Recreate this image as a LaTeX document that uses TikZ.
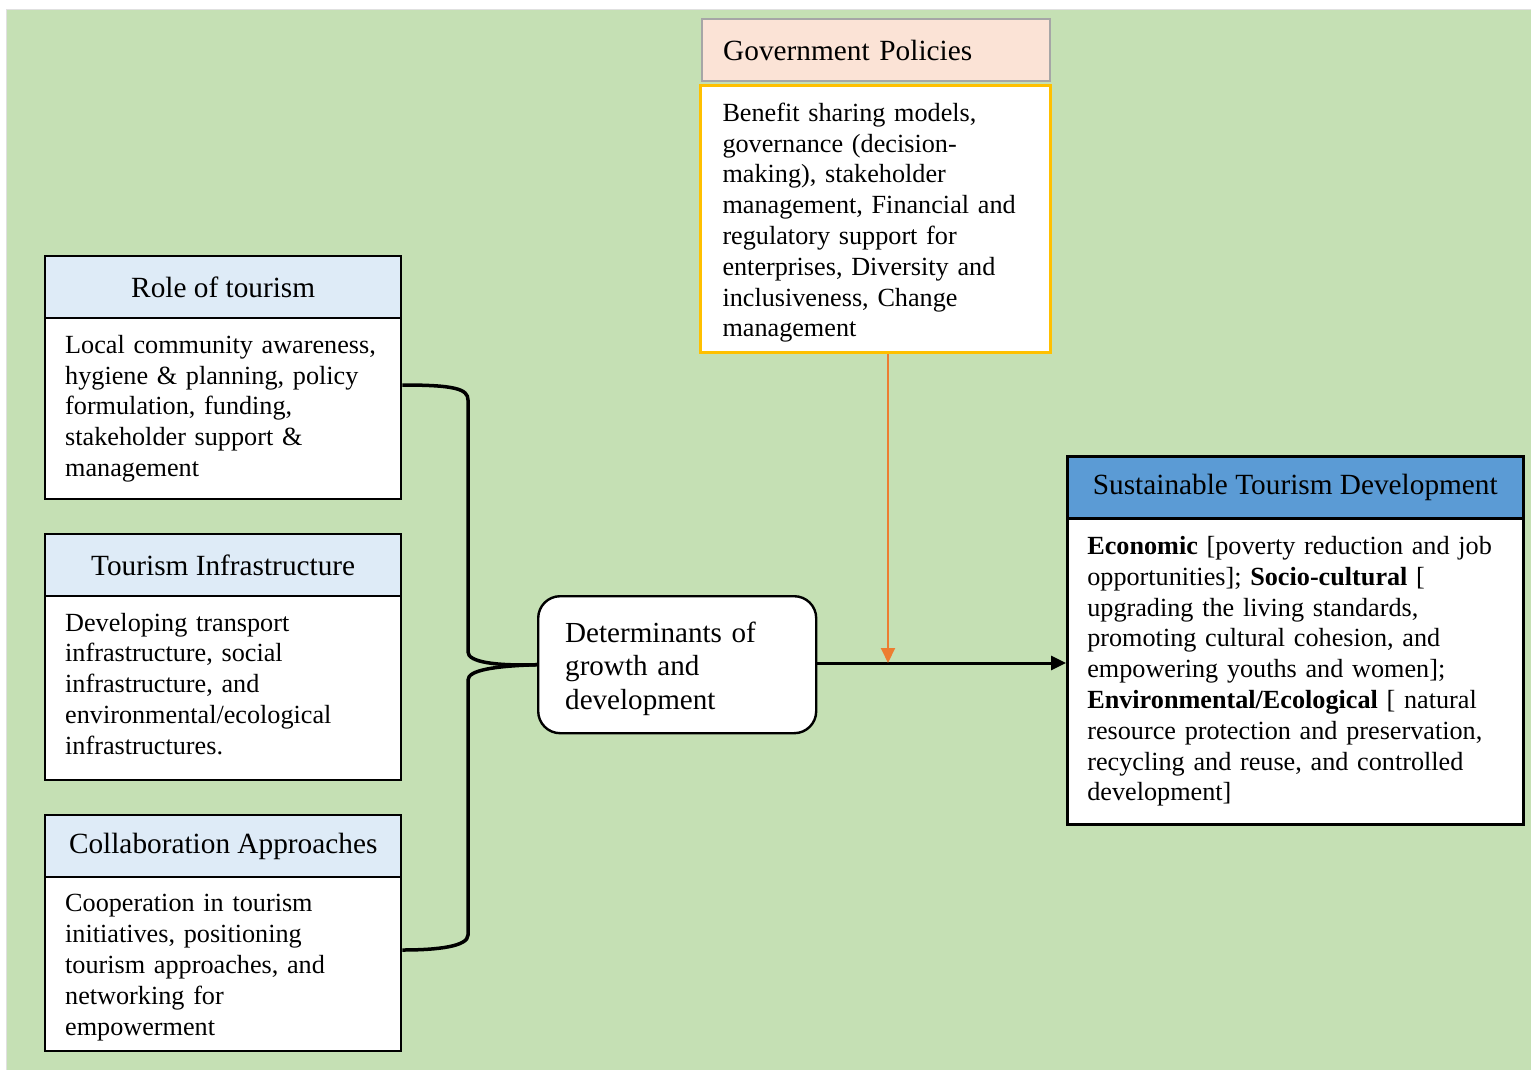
\documentclass[tikz,border=0pt]{standalone}
\usepackage{fontspec}
\setmainfont{Liberation Serif}
\usetikzlibrary{arrows.meta}
\definecolor{bggreen}{HTML}{C5E0B4}
\definecolor{hdrblue}{HTML}{DEEBF7}
\definecolor{peach}{HTML}{FBE3D6}
\definecolor{midblue}{HTML}{5B9BD5}
\definecolor{goldy}{HTML}{FFC000}
\definecolor{orng}{HTML}{ED7D31}
\definecolor{greyb}{HTML}{A6A6A6}
\tikzset{
  txt/.style={font=\fontsize{26.2}{30.8}\selectfont},
  hdrtxt/.style={font=\fontsize{29.3}{32}\selectfont},
  hdr/.style={hdrtxt, draw=black, line width=2.4pt, fill=hdrblue, anchor=north west, minimum height=62pt, inner sep=0pt},
  bodybox/.style={txt, draw=black, line width=2.4pt, fill=white, anchor=north west, align=left, inner ysep=0pt},
  brace/.style={line width=3.5pt, black},
}
\begin{document}
\begin{tikzpicture}[x=1pt,y=-1pt]
\useasboundingbox (0,0) rectangle (1531,1070);
\fill[white] (0,0) rectangle (1531,1070);
\draw[fill=bggreen, draw=black!12, line width=1.5pt] (6.5,9.5) rectangle (1535,1075);

% Left column
\node[hdr, minimum width=356pt] (roleh) at (44,255) {Role of tourism};
\node[bodybox, minimum width=356pt, minimum height=181pt, text width=316pt, inner xsep=20pt] (roleb) at (44,317)
 {Local community awareness,\\ hygiene \& planning, policy\\ formulation, funding,\\ stakeholder support \&\\ management};

\node[hdr, minimum width=356pt] (infh) at (44,533) {Tourism Infrastructure};
\node[bodybox, minimum width=356pt, minimum height=184pt, text width=316pt, inner xsep=20pt] (infb) at (44,595)
 {Developing transport\\ infrastructure, social\\ infrastructure, and\\ environmental/ecological\\ infrastructures.\rule[-9pt]{0pt}{9pt}};

\node[hdr, minimum width=356pt] (colh) at (44,814) {Collaboration Approaches};
\node[bodybox, minimum width=356pt, minimum height=174pt, text width=316pt, inner xsep=20pt] (colb) at (44,876)
 {\rule{0pt}{24pt}Cooperation in tourism\\ initiatives, positioning\\ tourism approaches, and\\ networking for\\ empowerment};

% Determinants
\node[font=\fontsize{29.1}{33.5}\selectfont, draw=black, line width=2.4pt, fill=white, rounded corners=22pt,
      anchor=north west, minimum width=278pt, minimum height=137pt, text width=224pt, inner xsep=27pt, inner ysep=0pt, align=left] (det) at (537,595)
 {\rule{0pt}{28pt}Determinants of\\ growth and\\ development};

% Government policies
\node[hdrtxt, draw=greyb, line width=2.4pt, fill=peach, anchor=north west, minimum width=348pt, minimum height=62pt,
      text width=306pt, inner xsep=21pt, inner ysep=0pt, align=left] (gph) at (701,18) {Government Policies};
\node[bodybox, draw=goldy, line width=3pt, minimum width=350pt, minimum height=267pt, text width=306pt, inner xsep=22pt] (gpb) at (699,84)
 {\rule{0pt}{26pt}Benefit sharing models,\\ governance (decision-\\ making), stakeholder\\ management, Financial and\\ regulatory support for\\ enterprises, Diversity and\\ inclusiveness, Change\\ management};

% Sustainable tourism development
\node[hdr, fill=midblue, minimum width=456pt, line width=2.6pt] (sdh) at (1066,455) {Sustainable Tourism Development};
\node[bodybox, line width=2.6pt, minimum width=456pt, minimum height=306pt, text width=416pt, inner xsep=20pt] (sdb) at (1066,517)
 {\textbf{Economic} [poverty reduction and job\\ opportunities]; \textbf{Socio-cultural} [\\ upgrading the living standards,\\ promoting cultural cohesion, and\\ empowering youths and women];\\ \textbf{Environmental/Ecological} [ natural\\ resource protection and preservation,\\ recycling and reuse, and controlled\\ development]};

% Brace
\draw[brace] (roleb.east |- 0,385) .. controls (455,385) and (468,389) .. (468,400)
   -- (468,652) .. controls (468,662) and (495,666) .. (det.west);
\draw[brace] (det.west) .. controls (495,666) and (468,670) .. (468,680)
   -- (468,935) .. controls (468,946) and (440,950) .. (colb.east |- 0,950);

% Arrows
\coordinate (meet) at (888,663);
\draw[line width=3pt, -{Triangle[length=15pt,width=14pt]}] (det.east |- meet) -- (sdb.west |- meet);
\draw[orng, line width=2pt, -{Triangle[length=15pt,width=14pt]}] (gpb.south -| meet) -- (meet);
\end{tikzpicture}
\end{document}
